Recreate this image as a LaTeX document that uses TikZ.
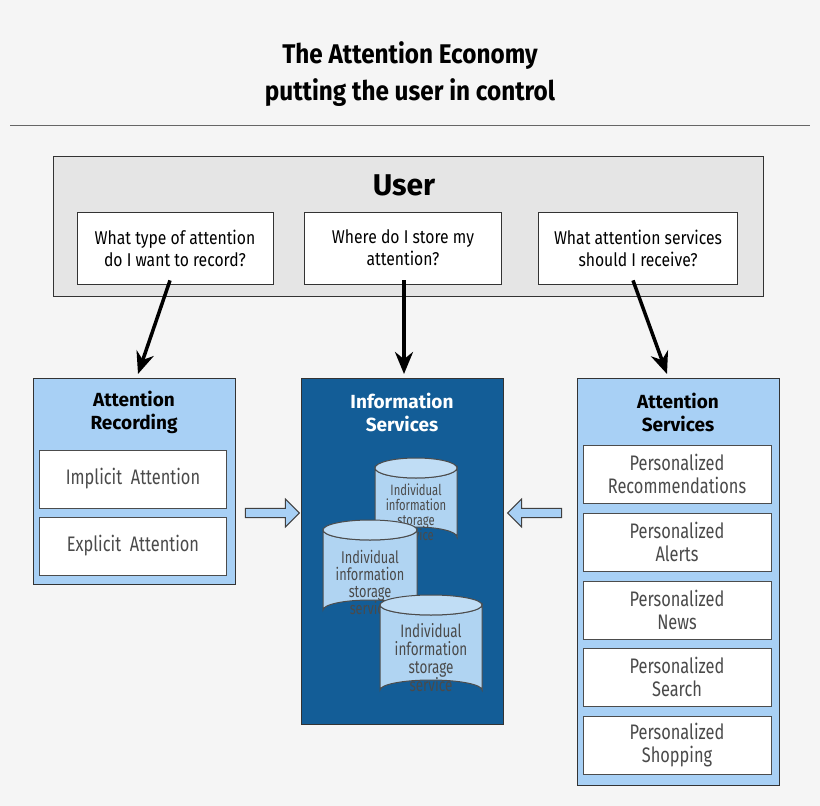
\documentclass[tikz,border=0pt]{standalone}
\usepackage{fontspec}
\setmainfont{Fira Sans}
\usetikzlibrary{arrows.meta,shapes.arrows}
\definecolor{bg}{HTML}{F5F5F5}
\definecolor{lb}{HTML}{A8D0F5}
\definecolor{db}{HTML}{135D97}
\definecolor{cyl}{HTML}{B0D4F2}
\definecolor{txt}{HTML}{4A4A4A}
\begin{document}
\begin{tikzpicture}[x=1pt,y=-1pt,
  panel/.style={draw=black!80,line width=1pt},
  q/.style={draw=black!80,fill=white,line width=0.8pt,align=center,font=\fontsize{18.5}{22}\selectfont\addfontfeature{FakeStretch=0.85}},
  item/.style={draw=black!70,fill=white,line width=0.8pt,align=center,text=txt,font=\fontsize{21}{23}\selectfont\addfontfeature{FakeStretch=0.78}},
  ptitle/.style={align=center,font=\bfseries\fontsize{19}{23}\selectfont},
  arr/.style={-{Stealth[length=22pt,width=18pt]},line width=3.5pt},
  barr/.style={single arrow,draw=black!75,line width=1pt,fill=lb,minimum height=54pt,minimum width=28pt,single arrow head extend=7pt,inner sep=3pt},
  cyltxt/.style={align=center,text=txt}]
\useasboundingbox[fill=bg] (0,0) rectangle (820,806);
\node[font=\bfseries\fontsize{27}{37}\selectfont\addfontfeature{FakeStretch=0.9},align=center] (title) at (410,74) {The Attention Economy\\putting the user in control};
\coordinate (r1) at (10,125); \coordinate (r2) at (810,125);
\draw[black!60,line width=1pt] (r1) -- (r2);
% user
\node[panel,fill=black!10,minimum width=710pt,minimum height=140pt,anchor=north west] (user) at (53,156) {};
\node[font=\bfseries\fontsize{30}{34}\selectfont] (ut) at (404,185) {User};
\node[q,minimum width=196pt,minimum height=72pt] (q1) at (175,248) {What type of attention\\do I want to record?};
\node[q,minimum width=197pt,minimum height=72pt] (q2) at (403,248) {Where do I store my\\attention?};
\node[q,minimum width=199pt,minimum height=72pt] (q3) at (638,248) {What attention services\\should I receive?};
% panels
\node[panel,fill=lb,minimum width=202pt,minimum height=206pt,anchor=north west] (rec) at (33,378) {};
\node[ptitle] (rect) at (134,412) {Attention\\Recording};
\node[item,minimum width=187pt,minimum height=58pt] (i1) at (133,479) {Implicit \ Attention};
\node[item,minimum width=187pt,minimum height=58pt] (i2) at (133,546) {Explicit \ Attention};
\node[panel,fill=db,minimum width=202pt,minimum height=346pt,anchor=north west] (info) at (301,378) {};
\node[ptitle,text=white] (infot) at (402,412) {Information\\Services};
\node[panel,fill=lb,minimum width=202pt,minimum height=407pt,anchor=north west] (serv) at (577,378) {};
\node[ptitle] (servt) at (678,412) {Attention\\Services};
\foreach \n/\y/\t in {s1/474/Recommendations,s2/542/Alerts,s3/610/News,s4/677/Search,s5/745/Shopping}
  \node[item,minimum width=188pt,minimum height=58pt] (\n) at (677,\y) {Personalized\\\t};
% arrows
\draw[arr] (q1.south) ++(-5,-4) coordinate (a1) -- (138,374) coordinate (b1);
\draw[arr] (q2.south) ++(1,-4) coordinate (a2) -- (404,374) coordinate (b2);
\draw[arr] (q3.south) ++(-5,-4) coordinate (a3) -- (667,374) coordinate (b3);
\node[barr] (ba1) at (270,513) {};
\node[barr,shape border rotate=180] (ba2) at (537,513) {};
% cylinders
\foreach \cx/\ty/\by/\w/\fs/\ny/\nm in {416/468/537/41/15/512/c1,370/530/610/47/17/582/c2,431/605/690/51/18/658/c3}{
  \fill[cyl,draw=black!70,line width=1pt] (\cx-\w,\ty) -- (\cx-\w,\by) arc[start angle=180,end angle=360,x radius=\w,y radius=10] -- (\cx+\w,\ty) arc[start angle=0,end angle=180,x radius=\w,y radius=10] -- cycle;
  \draw[black!70,fill=cyl!80,line width=1pt] (\cx,\ty) ellipse[x radius=\w,y radius=10];
  \node[cyltxt,font=\fontsize{\fs}{\fs}\selectfont\addfontfeature{FakeStretch=0.75}] (\nm) at (\cx,\ny) {Individual\\information\\storage\\service};
}
\end{tikzpicture}
\end{document}
